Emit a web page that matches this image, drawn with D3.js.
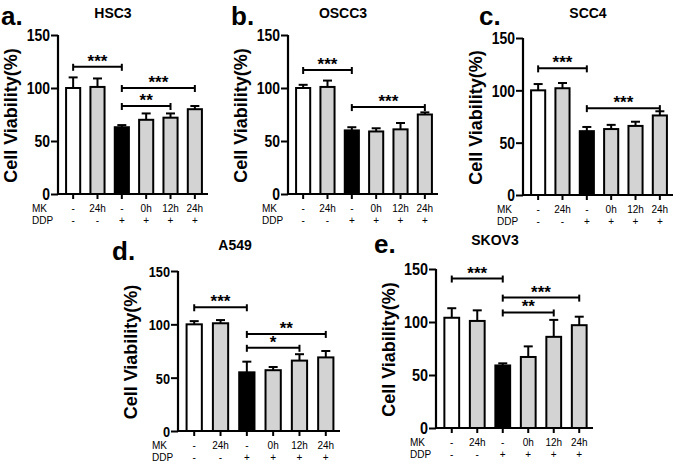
<!DOCTYPE html>
<html>
<head>
<meta charset="utf-8">
<script src="https://cdn.jsdelivr.net/npm/d3@7"></script>
<style>
  body { margin: 0; background: #fff; }
  text { font-family: "Liberation Sans", Arial, sans-serif; }
</style>
</head>
<body>
<div id="chart"></div>
<script>
// Treatment labels (same for every panel)
const mkLabels = ["-", "24h", "-", "0h", "12h", "24h"];
const ddpLabels = ["-", "-", "+", "+", "+", "+"];
const yTicks = [0, 50, 100, 150];

// Mean viability and SEM per cell line
const hsc3Mean = [100, 101, 63, 70, 72, 80];
const hsc3Err = [10, 8, 2, 6, 4, 3];
const oscc3Mean = [100, 101, 60, 59, 61, 75];
const oscc3Err = [3, 6, 3, 3, 6, 2];
const scc4Mean = [100, 102, 61, 63, 66, 76];
const scc4Err = [6, 5, 4, 4, 4, 4];
const a549Mean = [100, 101, 55, 57, 66, 69];
const a549Err = [3, 3, 10, 3, 6, 6];
const skov3Mean = [104, 101, 59, 67, 86, 97];
const skov3Err = [9, 10, 2, 10, 16, 8];

// Significance brackets: [from bar, to bar, height, stars]
const hsc3Sig = [[0, 2, 120, "***"], [2, 5, 100, "***"], [2, 4, 83, "**"]];
const oscc3Sig = [[0, 2, 117, "***"], [2, 5, 82, "***"]];
const scc4Sig = [[0, 2, 121, "***"], [2, 5, 83, "***"]];
const a549Sig = [[0, 2, 116, "***"], [2, 5, 91, "**"], [2, 4, 78, "*"]];
const skov3Sig = [[0, 2, 141, "***"], [2, 5, 123, "***"], [2, 4, 109, "**"]];

const barFills = ["#ffffff", "#d3d3d3", "#000000", "#d3d3d3", "#d3d3d3", "#d3d3d3"];

const svg = d3.select("#chart").append("svg")
  .attr("width", 685)
  .attr("height", 465);

// squeeze text horizontally, the figure's font is a bit condensed
function condense(sel, k) {
  sel.each(function() {
    const w = this.getComputedTextLength();
    d3.select(this).attr("textLength", w * k).attr("lengthAdjust", "spacingAndGlyphs");
  });
}

function drawPanel(p) {
  const g = svg.append("g");

  const y = d3.scaleLinear().domain([0, 150]).range([p.yBot, p.yTop]);
  const x = d3.scaleBand().domain(d3.range(6)).range([p.x0 + 2, p.x1]).paddingInner(0.42).paddingOuter(0.25);
  const bw = x.bandwidth();
  const cx = i => x(i) + bw / 2;

  // Bars
  g.selectAll("rect.bar").data(p.mean).enter().append("rect")
    .attr("x", (d, i) => x(i))
    .attr("y", d => y(d))
    .attr("width", bw)
    .attr("height", d => p.yBot - y(d))
    .attr("fill", (d, i) => barFills[i])
    .attr("stroke", "#000")
    .attr("stroke-width", 2);

  // Error bars (upper only)
  p.mean.forEach((m, i) => {
    const top = y(m + p.err[i]);
    g.append("line").attr("x1", cx(i)).attr("x2", cx(i)).attr("y1", y(m)).attr("y2", top)
      .attr("stroke", "#000").attr("stroke-width", 2);
    g.append("line").attr("x1", cx(i) - 4.5).attr("x2", cx(i) + 4.5).attr("y1", top).attr("y2", top)
      .attr("stroke", "#000").attr("stroke-width", 2);
  });

  // Y axis
  const yAxis = g.append("g")
    .attr("transform", "translate(" + p.x0 + ",0)")
    .call(d3.axisLeft(y).tickValues(yTicks).tickSize(7).tickPadding(1));
  yAxis.select(".domain").attr("stroke-width", 2.2).attr("d", "M0," + p.yTop + "V" + p.yBot);
  yAxis.selectAll(".tick line").attr("stroke-width", 2);
  yAxis.selectAll("text").style("font-size", p.tickFont + "px").style("font-weight", "bold").attr("dy", "0.36em")
    .call(condense, p.tickSqueeze);

  // X axis
  const xAxis = g.append("g")
    .attr("transform", "translate(0," + p.yBot + ")")
    .call(d3.axisBottom(x).tickSize(5).tickFormat(""));
  xAxis.select(".domain").attr("stroke-width", 2.2).attr("d", "M" + p.x0 + ",0H" + p.x1);
  xAxis.selectAll(".tick line").attr("stroke-width", 2);

  // Treatment rows
  g.selectAll("text.mk").data(mkLabels).enter().append("text")
    .attr("x", (d, i) => cx(i)).attr("y", p.yBot + 18)
    .attr("text-anchor", "middle").style("font-size", "10px").text(d => d);
  g.selectAll("text.ddp").data(ddpLabels).enter().append("text")
    .attr("x", (d, i) => cx(i)).attr("y", p.yBot + 30)
    .attr("text-anchor", "middle").style("font-size", "10px").text(d => d);
  g.append("text").attr("x", p.x0 - 26).attr("y", p.yBot + 18).style("font-size", "10px").text("MK");
  g.append("text").attr("x", p.x0 - 26).attr("y", p.yBot + 30).style("font-size", "10px").text("DDP");

  // Significance brackets
  p.sig.forEach(s => {
    const ly = y(s[2]);
    const xa = cx(s[0]), xb = cx(s[1]);
    g.append("line").attr("x1", xa).attr("x2", xb).attr("y1", ly).attr("y2", ly)
      .attr("stroke", "#000").attr("stroke-width", 2);
    [xa, xb].forEach(xx => {
      g.append("line").attr("x1", xx).attr("x2", xx).attr("y1", ly - 3).attr("y2", ly + 4)
        .attr("stroke", "#000").attr("stroke-width", 2);
    });
    g.append("text").attr("x", (xa + xb) / 2).attr("y", ly)
      .attr("text-anchor", "middle").style("font-size", "17px").style("font-weight", "bold").text(s[3]);
  });

  // Y label
  g.append("text")
    .attr("transform", "translate(" + (p.x0 - 41) + "," + ((p.yTop + p.yBot) / 2 + 1) + ") rotate(-90)")
    .attr("text-anchor", "middle")
    .style("font-size", "18px").style("font-weight", "bold")
    .text("Cell Viability(%)");

  // Title and panel letter
  g.append("text").attr("x", p.titleX).attr("y", p.titleY)
    .attr("text-anchor", "middle").style("font-size", "14px").style("font-weight", "bold").text(p.title);
  g.append("text").attr("x", p.letterX).attr("y", p.letterY)
    .style("font-size", "26px").style("font-weight", "bold").text(p.letter);
}

drawPanel({ title: "HSC3", letter: "a.", mean: hsc3Mean, err: hsc3Err, sig: hsc3Sig, tickFont: 16, tickSqueeze: 0.87,
  x0: 58, x1: 208, yTop: 35, yBot: 194, titleX: 113, titleY: 18, letterX: 1, letterY: 25 });
drawPanel({ title: "OSCC3", letter: "b.", mean: oscc3Mean, err: oscc3Err, sig: oscc3Sig, tickFont: 16, tickSqueeze: 0.87,
  x0: 288, x1: 438, yTop: 35, yBot: 194, titleX: 343, titleY: 18, letterX: 231, letterY: 25 });
drawPanel({ title: "SCC4", letter: "c.", mean: scc4Mean, err: scc4Err, sig: scc4Sig, tickFont: 16, tickSqueeze: 0.87,
  x0: 523, x1: 673, yTop: 38, yBot: 195, titleX: 588, titleY: 18, letterX: 479, letterY: 25 });
drawPanel({ title: "A549", letter: "d.", mean: a549Mean, err: a549Err, sig: a549Sig, tickFont: 15, tickSqueeze: 0.85,
  x0: 178, x1: 340, yTop: 271, yBot: 431, titleX: 235, titleY: 250, letterX: 112, letterY: 260 });
drawPanel({ title: "SKOV3", letter: "e.", mean: skov3Mean, err: skov3Err, sig: skov3Sig, tickFont: 16, tickSqueeze: 0.9,
  x0: 436, x1: 593, yTop: 269, yBot: 428, titleX: 495, titleY: 245, letterX: 374, letterY: 253 });
</script>
</body>
</html>
